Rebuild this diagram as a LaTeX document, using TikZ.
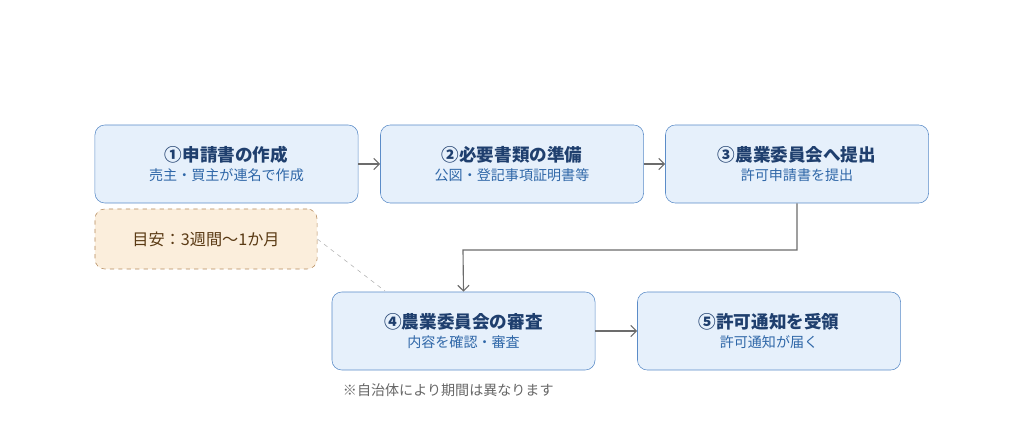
\documentclass[tikz,border=0pt]{standalone}
\usepackage{fontspec}
\setmainfont{Noto Sans CJK JP}
\usetikzlibrary{arrows.meta,positioning}
\definecolor{boxfill}{HTML}{E6F0FB}
\definecolor{boxline}{HTML}{5B8CC8}
\definecolor{titlecol}{HTML}{1F3F6E}
\definecolor{subcol}{HTML}{2F67A8}
\definecolor{notefill}{HTML}{FBEEDC}
\definecolor{noteline}{HTML}{B58A5C}
\definecolor{notetext}{HTML}{5A3A14}
\begin{document}
\begin{tikzpicture}[x=0.025cm,y=-0.025cm]
\tikzstyle{stepbox} = [rectangle, draw=boxline, fill=boxfill, rounded corners=7pt,
minimum width=6.575cm, minimum height=1.95cm, align=center, inner sep=0pt]
\tikzstyle{notebox} = [rectangle, draw=noteline, dashed, fill=notefill, rounded corners=7pt,
minimum width=5.55cm, minimum height=1.5cm, text=notetext, font=\fontsize{11.5}{14}\selectfont]
\tikzstyle{line} = [draw=gray!85!black, thick, -{Straight Barb[length=4pt,width=8pt]}]
\newcommand{\steptext}[2]{{\color{titlecol}\fontsize{12.5}{18}\bfseries #1}\\[1pt]{\color{subcol}\fontsize{10}{13}\selectfont #2}}
\useasboundingbox (0,0) rectangle (1024,445);
% row 1
\node [stepbox] (make) at (226.5,164) {\steptext{①申請書の作成}{売主・買主が連名で作成}};
\node [stepbox] (docs) at (512,164) {\steptext{②必要書類の準備}{公図・登記事項証明書等}};
\node [stepbox] (submit) at (797,164) {\steptext{③農業委員会へ提出}{許可申請書を提出}};
% row 2
\node [stepbox] (review) at (463.5,331) {\steptext{④農業委員会の審査}{内容を確認・審査}};
\node [stepbox] (notice) at (769,331) {\steptext{⑤許可通知を受領}{許可通知が届く}};
\node [notebox] (guide) at (206,239) {目安：3週間〜1か月};
\node [anchor=west, text=gray!80!black, font=\fontsize{10}{12}\selectfont] (remark) at (338,390) {※自治体により期間は異なります};
\path [line] (make) -- (docs);
\path [line] (docs) -- (submit);
\path [line] (submit.south) |- (463,250) -- (review.north);
\path [line] (review) -- (notice);
\draw [gray!60, dashed] (guide.east) -- (385,291);
\end{tikzpicture}
\end{document}
